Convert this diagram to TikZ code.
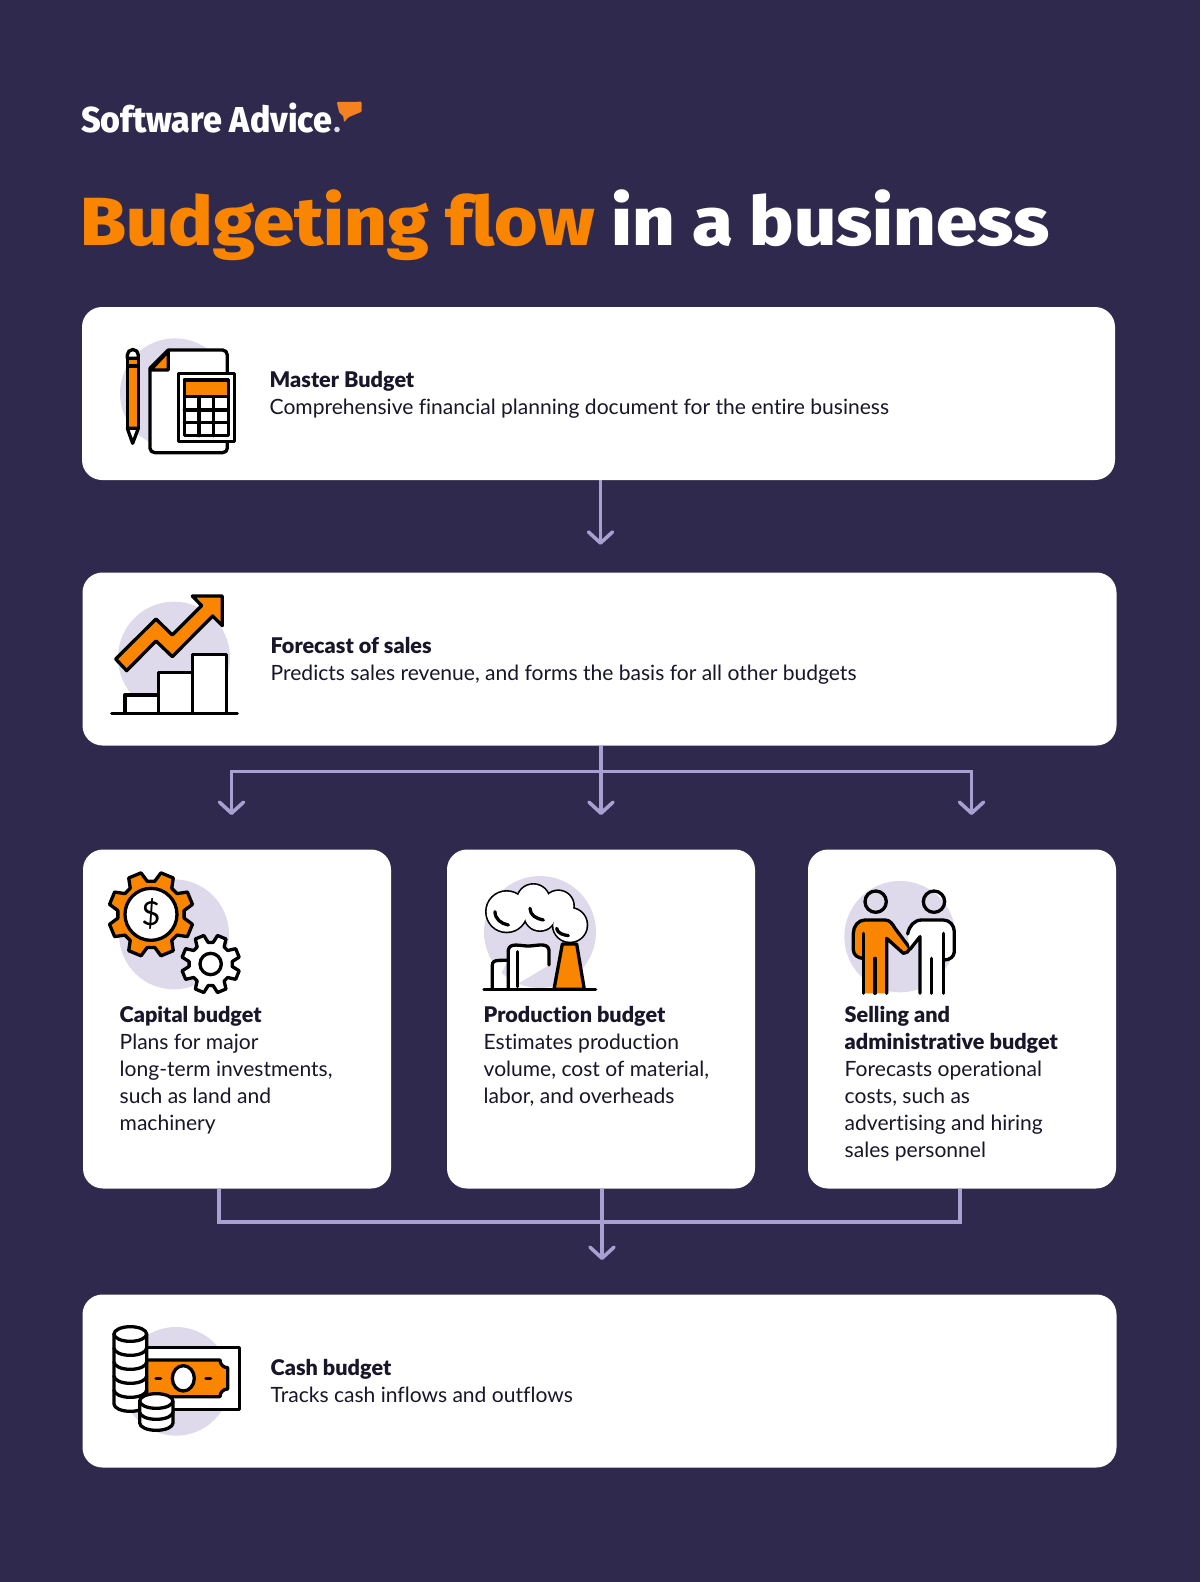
\documentclass[tikz,border=0pt]{standalone}
\usepackage{fontspec}
\setmainfont{Lato}[Ligatures=NoCommon]
\newfontfamily\headfont{Fira Sans ExtraBold}[Ligatures=NoCommon]
\newfontfamily\cardhead{Lato Black}[Ligatures=NoCommon]
\usetikzlibrary{arrows.meta,calc,positioning}
\definecolor{bgc}{RGB}{47,41,77}
\definecolor{mkc}{RGB}{249,133,0}
\definecolor{flowc}{RGB}{168,160,208}
\definecolor{blobc}{RGB}{222,218,236}
\definecolor{inkc}{RGB}{24,22,40}
\definecolor{logoc}{RGB}{245,130,32}
\tikzset{
  card/.style={fill=white,rounded corners=20pt,minimum height=173pt,inner sep=0pt},
  cardtext/.style={anchor=west,align=left,inner sep=0pt,text=inkc,font=\fontsize{21.05}{27}\selectfont},
  coltext/.style={cardtext,anchor=north west},
  headtext/.style={text=white,anchor=base west,inner sep=0pt},
  flow/.style={draw=flowc,line width=3.6pt},
  icon/.style={x=0.3333pt,y=-0.3333pt,line width=3.3pt,line join=round,line cap=round,draw=black},
}
\newcommand{\cardtitle}[1]{{\cardhead\fontsize{21.6}{27}\selectfont #1}}
% gear outline, teeth on the diagonals
\newcommand{\gearpath}[2]{(6.5:#1) \foreach \a in {22.5,67.5,...,337.5} { -- ({\a-16}:#1) -- ({\a-9}:#2) -- ({\a+9}:#2) -- ({\a+16}:#1)} -- cycle}
% stack of coins: centre x, top y, half width, step, layers
\newcommand{\coinstack}[5]{
  \foreach \k in {#5,...,1} {\draw[fill=white] (#1-#3,{#2+(\k-1)*#4}) -- (#1-#3,{#2+\k*#4}) arc (180:0:#3 and 22) -- (#1+#3,{#2+(\k-1)*#4});}
  \draw[fill=white] (#1,#2) ellipse (#3 and 22);
}
\begin{document}
\begin{tikzpicture}[x=1pt,y=-1pt,>={Straight Barb[length=11pt,width=24pt,round]}]
  \fill[bgc] (0,0) rectangle (1200,1582);
  \useasboundingbox (0,0) rectangle (1200,1582);

  % logo and title
  \node[headtext,font=\headfont\fontsize{36}{36}\selectfont] (logo) at (81,132) {\scalebox{0.944}[1]{Software Advice}};
  \fill[logoc,rounded corners=1pt] (336.7,102) -- (361.7,101.7) -- (361.7,111.7) -- (348.3,117.3) -- (344,122.3) -- (343.3,116) -- (339.3,112.7) -- cycle;
  \fill[blobc] (337,129.5) circle (2.8);
  \node[headtext,font=\headfont\fontsize{68}{68}\selectfont] (title) at (80,245) {\scalebox{1.093}[1]{\textcolor{mkc}{Budgeting flow} in a business}};

  % cards
  \node[card,minimum width=1033pt] (master) at (598.5,393.5) {};
  \node[card,minimum width=1034pt] (forecast) at (599.5,659) {};
  \node[card,minimum width=308pt,minimum height=339pt] (capital) at (237,1019) {};
  \node[card,minimum width=308pt,minimum height=339pt] (production) at (601,1019) {};
  \node[card,minimum width=308pt,minimum height=339pt] (selling) at (962,1019) {};
  \node[card,minimum width=1034pt] (cash) at (599.5,1381) {};

  \node[cardtext] (mastertext) at (269.5,394.5) {\cardtitle{Master Budget}\\Comprehensive financial planning document for the entire business};
  \node[cardtext] (forecasttext) at (270.5,660.5) {\cardtitle{Forecast of sales}\\Predicts sales revenue, and forms the basis for all other budgets};
  \node[coltext] (capitaltext) at (119.5,1006) {\cardtitle{Capital budget}\\Plans for major\\long-term investments,\\such as land and\\machinery};
  \node[coltext] (productiontext) at (483.5,1006) {\cardtitle{Production budget}\\Estimates production\\volume, cost of material,\\labor, and overheads};
  \node[coltext] (sellingtext) at (844.5,1006) {\cardtitle{Selling and}\\\cardtitle{administrative budget}\\Forecasts operational\\costs, such as\\advertising and hiring\\sales personnel};
  \node[cardtext] (cashtext) at (270.5,1381) {\cardtitle{Cash budget}\\Tracks cash inflows and outflows};

  % connectors
  \coordinate (tipa) at (600.5,544.8);
  \coordinate (joinb) at (601,771.5);
  \coordinate (tipb1) at (231.5,815);
  \coordinate (tipb2) at (601,815);
  \coordinate (tipb3) at (971.5,815);
  \coordinate (joinc) at (602,1222);
  \coordinate (tipc) at (602,1260);
  \draw[flow,->] (master.south -| tipa) -- (tipa);
  \draw[flow] (forecast.south -| joinb) -- (joinb);
  \foreach \t in {tipb1,tipb2,tipb3} {\draw[flow,->] (joinb) -| (\t);}
  \draw[flow] (capital.south -| 219,0) |- (joinc);
  \draw[flow] (selling.south -| 960,0) |- (joinc);
  \draw[flow,->] (production.south -| joinc) -- (tipc);

  % master budget icon
  \begin{scope}[shift={(100,330)},icon]
    \fill[blobc] (225,190) circle (165);
    \draw[fill=white] (205,60) -- (368,60) to[out=0,in=90] (382,75) -- (382,355) to[out=270,in=0] (368,368) -- (165,368) to[out=180,in=270] (150,355) -- (150,115) -- cycle;
    \draw[fill=mkc] (205,63) -- (205,120) -- (152,120) -- cycle;
    \draw[fill=white] (82,85) -- (82,75) arc (180:360:16.5) -- (115,85) -- cycle;
    \draw[fill=mkc] (82,85) rectangle (115,108);
    \draw[fill=mkc] (82,108) rectangle (115,295);
    \draw[fill=white] (82,295) -- (115,295) -- (98,340) -- cycle;
    \draw[fill=white] (235,130) rectangle (403,335);
    \draw[fill=white] (253,150) rectangle (385,317);
    \draw[fill=mkc] (253,150) rectangle (385,200);
    \draw (253,240) -- (385,240) (253,278) -- (385,278) (297,200) -- (297,317) (340,200) -- (340,317);
  \end{scope}

  % forecast icon
  \begin{scope}[shift={(100,585)},icon]
    \fill[blobc] (222,218) circle (168);
    \draw[fill=white] (75,385) -- (75,330) -- (175,330) -- (175,385);
    \draw[fill=white] (175,385) -- (175,262) -- (277,262) -- (277,385);
    \draw[fill=white] (277,385) -- (277,208) -- (380,208) -- (380,385);
    \draw (35,385) -- (412,385);
    \draw[fill=mkc] (47,222) -- (168,102) -- (217,150) -- (305,62) -- (277,33) -- (367,33) -- (367,122) -- (338,93) -- (217,215) -- (168,168) -- (80,257) -- cycle;
  \end{scope}

  % capital icon
  \begin{scope}[shift={(100,865)},icon]
    \fill[blobc] (222,208) circle (165);
    \begin{scope}[shift={(153,148)}]
      \draw[fill=mkc] \gearpath{100}{128};
      \draw[fill=white] (0,0) circle (78);
      \node[text=black,font=\fontsize{33}{33}\selectfont] (dollar) at (0,0) {\$};
    \end{scope}
    \begin{scope}[shift={(332,297)}]
      \draw[fill=white] \gearpath{65}{88};
      \draw (0,0) circle (32);
    \end{scope}
  \end{scope}

  % production icon
  \begin{scope}[shift={(475,870)},icon]
    \fill[blobc] (195,186) circle (168);
    \foreach \cx/\cy/\r in {95/125/60,175/92/48,250/108/45,285/165/50,195/135/46} {\draw (\cx,\cy) circle (\r);}
    \foreach \cx/\cy/\r in {95/125/60,175/92/48,250/108/45,285/165/50,195/135/46} {\fill[white] (\cx,\cy) circle (\r);}
    \draw (60,125) to[out=270,in=170] (100,165);
    \draw (165,115) to[out=270,in=170] (205,150);
    \draw (245,175) to[out=280,in=170] (280,197);
    \draw[fill=white] (52,358) -- (52,285) to[out=90,in=190] (100,270);
    \draw[fill=white] (100,358) -- (100,240) to[out=80,in=180] (160,228) to[out=0,in=100] (222,240) -- (222,285);
    \draw (127,245) -- (127,350);
    \draw[fill=mkc] (262,222) -- (305,222) -- (328,358) -- (237,358) -- cycle;
    \draw (27,358) -- (362,358);
  \end{scope}

  % selling icon
  \begin{scope}[shift={(835,870)},icon]
    \fill[blobc] (195,200) circle (167);
    \draw (122,95) circle (32);
    \draw (297,95) circle (32);
    \fill[mkc] (85,370) -- (85,265) to[out=180,in=270] (55,240) -- (55,190) to[out=90,in=180] (90,150) -- (150,150) to[out=0,in=120] (180,175) -- (225,235) -- (205,250) -- (155,205) -- (155,370) -- cycle;
    \draw (85,265) to[out=180,in=270] (55,240) -- (55,190) to[out=90,in=180] (90,150) -- (150,150) to[out=0,in=120] (180,175) -- (225,235) to[out=250,in=0] (205,250) -- (155,205) -- (155,370);
    \draw (85,190) -- (85,370) (120,265) -- (120,370);
    \fill[white] (255,370) -- (255,200) -- (225,240) -- (218,192) to[out=90,in=180] (260,150) -- (325,150) to[out=0,in=90] (358,185) -- (358,245) to[out=270,in=0] (328,270) -- (328,370) -- cycle;
    \draw (255,370) -- (255,200) -- (225,238) (218,192) to[out=80,in=180] (260,150) -- (325,150) to[out=0,in=90] (358,185) -- (358,245) to[out=270,in=0] (328,270);
    \draw (325,190) -- (325,370) (290,265) -- (290,370);
  \end{scope}

  % cash icon
  \begin{scope}[shift={(100,1315)},icon]
    \fill[blobc] (228,199) circle (163);
    \draw[fill=white] (100,97) rectangle (418,283);
    \draw[fill=mkc] (120,135) -- (360,135) to[out=270,in=180] (383,158) -- (383,222) to[out=180,in=90] (360,245) -- (120,245) -- cycle;
    \draw[fill=white] (250,190) ellipse (33 and 38);
    \draw (168,190) -- (182,190) (318,190) -- (332,190);
    \coinstack{91}{57}{49}{42}{5}
    \coinstack{169}{258}{50}{33}{2}
  \end{scope}
\end{tikzpicture}
\end{document}
